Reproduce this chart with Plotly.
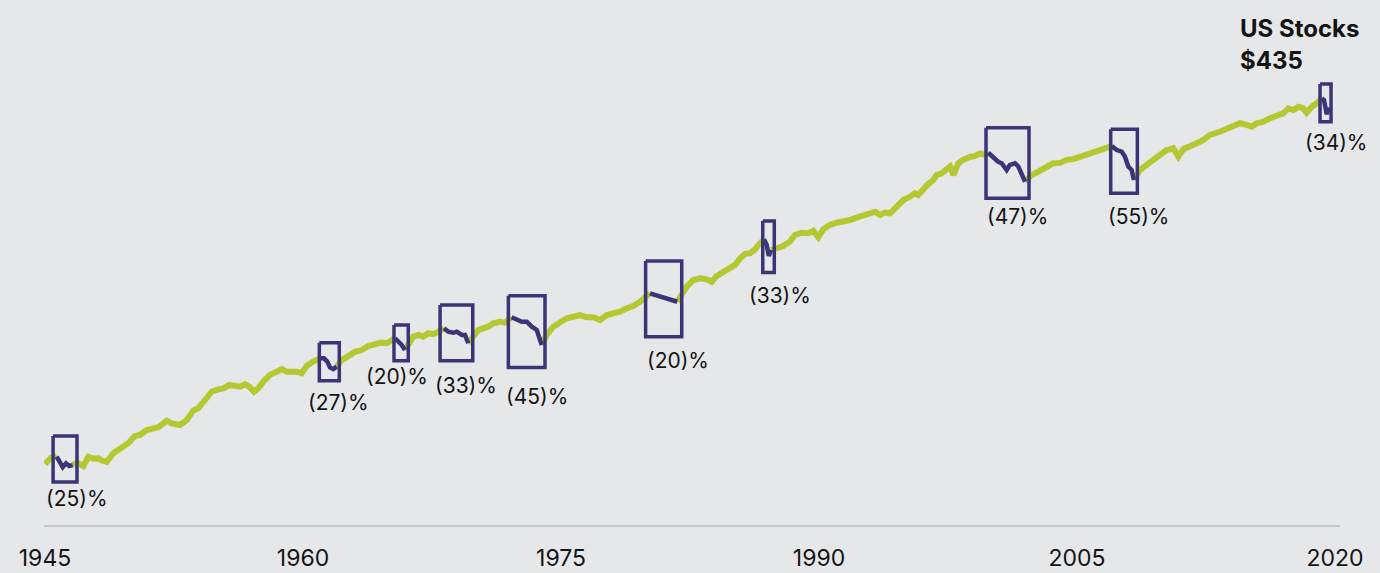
import numpy as np
import plotly.graph_objects as go

# ---------------- data ----------------
years = [
    1945.00, 1945.39, 1945.68, 1945.87, 1946.03, 1946.22, 1946.41, 1946.61, 1946.88, 1947.23,
    1947.52, 1947.81, 1948.10, 1948.30, 1948.59, 1948.97, 1949.46, 1949.84, 1950.23, 1950.52,
    1950.91, 1951.30, 1951.59, 1951.88, 1952.08, 1952.37, 1952.85, 1953.24, 1953.62, 1953.91,
    1954.20, 1954.49, 1954.69, 1955.08, 1955.37, 1955.72, 1956.05, 1956.34, 1956.63, 1956.88,
    1957.15, 1957.40, 1957.69, 1958.08, 1958.47, 1958.76, 1959.05, 1959.34, 1959.63, 1959.92,
    1960.22, 1960.60, 1960.99, 1961.22, 1961.41, 1961.57, 1961.76, 1961.96, 1962.25, 1962.63,
    1963.02, 1963.41, 1963.80, 1964.19, 1964.58, 1964.87, 1965.16, 1965.35, 1965.54, 1965.74,
    1965.93, 1966.12, 1966.41, 1966.70, 1966.99, 1967.28, 1967.58, 1967.87, 1968.20, 1968.45,
    1968.74, 1968.94, 1969.23, 1969.42, 1969.61, 1969.90, 1970.19, 1970.48, 1970.77, 1971.06,
    1971.45, 1971.74, 1972.13, 1972.42, 1972.72, 1973.01, 1973.30, 1973.59, 1973.88, 1974.17,
    1974.55, 1974.94, 1975.33, 1975.72, 1976.10, 1976.49, 1976.88, 1977.27, 1977.66, 1978.04,
    1978.43, 1978.82, 1979.20, 1979.59, 1979.88, 1980.17, 1980.47, 1980.76, 1981.05, 1981.24,
    1981.53, 1981.76, 1982.02, 1982.31, 1982.69, 1983.08, 1983.47, 1983.76, 1984.05, 1984.44,
    1984.83, 1985.12, 1985.41, 1985.70, 1985.99, 1986.28, 1986.57, 1986.80, 1986.96, 1987.08,
    1987.21, 1987.54, 1987.92, 1988.31, 1988.60, 1988.99, 1989.38, 1989.67, 1989.96, 1990.25,
    1990.64, 1991.03, 1991.41, 1991.80, 1992.19, 1992.58, 1992.97, 1993.26, 1993.55, 1993.84,
    1994.13, 1994.52, 1994.90, 1995.29, 1995.58, 1995.77, 1996.06, 1996.35, 1996.65, 1996.84,
    1997.13, 1997.42, 1997.62, 1997.81, 1998.10, 1998.39, 1998.78, 1999.07, 1999.36, 1999.65,
    1999.84, 2000.13, 2000.42, 2000.62, 2000.91, 2001.10, 2001.40, 2001.59, 2001.78, 2001.98,
    2002.37, 2002.75, 2003.24, 2003.62, 2004.01, 2004.40, 2004.78, 2005.17, 2005.56, 2005.95,
    2006.34, 2006.73, 2007.02, 2007.31, 2007.60, 2007.79, 2007.98, 2008.18, 2008.31, 2008.66,
    2009.05, 2009.44, 2009.83, 2010.21, 2010.60, 2010.89, 2011.18, 2011.57, 2011.96, 2012.34,
    2012.73, 2013.31, 2013.90, 2014.48, 2014.87, 2015.16, 2015.45, 2015.83, 2016.22, 2016.61,
    2016.99, 2017.28, 2017.58, 2017.87, 2018.16, 2018.35, 2018.65, 2018.94, 2019.23, 2019.36,
    2019.52, 2019.63,
]
values = [
    0.159, 0.184, 0.186, 0.167, 0.148, 0.161, 0.152, 0.155, 0.163, 0.152,
    0.186, 0.178, 0.180, 0.171, 0.166, 0.201, 0.229, 0.250, 0.293, 0.300,
    0.334, 0.347, 0.355, 0.387, 0.410, 0.387, 0.373, 0.416, 0.511, 0.538,
    0.622, 0.685, 0.774, 0.816, 0.834, 0.897, 0.864, 0.864, 0.911, 0.864,
    0.774, 0.834, 0.964, 1.12, 1.20, 1.27, 1.20, 1.20, 1.20, 1.16,
    1.37, 1.50, 1.61, 1.61, 1.50, 1.32, 1.27, 1.34, 1.55, 1.69,
    1.86, 1.93, 2.11, 2.20, 2.27, 2.24, 2.44, 2.50, 2.32, 2.16,
    1.93, 2.16, 2.59, 2.69, 2.59, 2.79, 2.74, 2.89, 3.11, 2.89,
    2.82, 2.89, 2.69, 2.69, 2.24, 2.59, 3.00, 3.11, 3.22, 3.47,
    3.59, 3.52, 3.96, 3.73, 3.59, 3.59, 3.22, 3.00, 2.16, 2.69,
    3.22, 3.47, 3.87, 4.01, 4.16, 3.96, 3.96, 3.73, 4.16, 4.32,
    4.48, 4.82, 5.07, 5.57, 6.22, 6.70, 6.45, 6.22, 6.14, 6.00,
    5.78, 5.57, 6.45, 7.74, 8.97, 9.31, 9.11, 8.64, 9.79, 10.8,
    11.6, 12.5, 14.4, 15.9, 16.1, 17.6, 20.1, 21.9, 19.3, 15.2,
    17.3, 18.0, 18.9, 20.8, 24.1, 25.3, 25.0, 26.4, 22.9, 27.3,
    30.0, 31.5, 32.2, 33.4, 35.2, 37.3, 38.7, 40.1, 37.3, 39.3,
    38.7, 44.8, 51.8, 55.7, 60.0, 57.9, 67.0, 73.6, 80.4, 89.7,
    93.1, 104, 108, 89.7, 116, 125, 134, 136, 144, 139,
    146, 132, 120, 116, 100, 112, 116, 108, 93.1, 77.4,
    89.7, 96.4, 108, 116, 117, 125, 127, 134, 141, 146,
    155, 167, 169, 155, 150, 134, 108, 100, 80.4, 100,
    112, 125, 134, 155, 161, 134, 158, 167, 180, 193,
    216, 232, 259, 279, 269, 259, 279, 289, 311, 327,
    347, 387, 373, 401, 387, 352, 401, 432, 482, 465,
    340, 395,
]

# bear markets (drawdown periods)
bear_start = [1945.68, 1960.99, 1965.35, 1968.20, 1972.13, 1980.17, 1986.80, 1999.84, 2007.02, 2019.23]
bear_end = [1946.61, 1961.96, 1965.93, 1969.61, 1973.88, 1981.76, 1987.21, 2001.98, 2008.31, 2019.63]
bear_labels = ["(25)%", "(27)%", "(20)%", "(33)%", "(45)%", "(20)%", "(33)%", "(47)%", "(55)%", "(34)%"]

# highlight boxes around each bear market (years / dollar values)
box_x0 = [1945.47, 1960.95, 1965.29, 1967.97, 1971.94, 1979.92, 1986.73, 1999.71, 2006.96, 2019.13]
box_x1 = [1946.86, 1962.11, 1966.12, 1969.87, 1974.07, 1982.02, 1987.40, 2002.21, 2008.51, 2019.77]
box_top = [0.293, 2.27, 3.34, 5.19, 6.36, 13.6, 32.7, 253, 244, 660]
box_bottom = [0.107, 0.986, 1.53, 1.53, 1.32, 2.59, 10.6, 53.8, 60.0, 289]

# label anchor positions (year, dollar level)
label_year = [1946.86, 1962.09, 1965.49, 1969.48, 1973.59, 1981.80, 1987.73, 2001.54, 2008.55, 2020.03]
label_level = [0.0752, 0.605, 1.08, 0.897, 0.694, 1.55, 6.36, 36.5, 36.5, 181]

tick_years = [1945, 1960, 1975, 1990, 2005, 2020]
tick_text = ["1945", "1960", "1975", "1990", "2005", "2020"]

series_name = "US Stocks"
end_value_text = "$435"

# ---------------- styling ----------------
BG = "#e6e7e9"
GREEN = "#b4c832"
PURPLE = "#3b3577"
TEXT = "#141414"
FONT = "Inter, Roboto, 'Liberation Sans', sans-serif"

yrs = np.array(years)
vals = np.array(values)

inside = np.zeros(len(yrs), dtype=bool)
for s, e in zip(bear_start, bear_end):
    inside |= (yrs > s + 1e-9) & (yrs < e - 1e-9)
green_y = [None if m else v for m, v in zip(inside, values)]

fig = go.Figure()
fig.add_trace(go.Scatter(
    x=years, y=green_y, mode="lines", connectgaps=False,
    line=dict(color=GREEN, width=6), hoverinfo="skip", showlegend=False,
))

for s, e in zip(bear_start, bear_end):
    m = (yrs >= s - 1e-9) & (yrs <= e + 1e-9)
    fig.add_trace(go.Scatter(
        x=yrs[m].tolist(), y=vals[m].tolist(), mode="lines",
        line=dict(color=PURPLE, width=4.5), hoverinfo="skip", showlegend=False,
    ))

for x0, x1, t, b in zip(box_x0, box_x1, box_top, box_bottom):
    fig.add_trace(go.Scatter(
        x=[x0, x1, x1, x0, x0], y=[t, t, b, b, t], mode="lines",
        line=dict(color=PURPLE, width=3.5), hoverinfo="skip", showlegend=False,
    ))

annotations = []
for lx, ly, txt in zip(label_year, label_level, bear_labels):
    annotations.append(dict(
        x=lx, y=float(np.log10(ly)), xref="x", yref="y", text=txt, showarrow=False,
        xanchor="center", yanchor="middle", font=dict(family=FONT, size=21, color=TEXT),
    ))

W, H = 1380, 573
ml, mr, mt, mb = 44, 40, 0, 48
pw, ph = W - ml - mr, H - mt - mb
annotations.append(dict(
    x=(1238 - ml) / pw, y=(H - mb - 28) / ph, xref="paper", yref="paper",
    text=f"<b>{series_name}</b>", showarrow=False, xanchor="left", yanchor="middle",
    font=dict(family=FONT, size=24, color=TEXT),
))
annotations.append(dict(
    x=(1238 - ml) / pw, y=(H - mb - 60) / ph, xref="paper", yref="paper",
    text=f"<b>{end_value_text}</b>", showarrow=False, xanchor="left", yanchor="middle",
    font=dict(family=FONT, size=24, color=TEXT),
))

px_per_year = 17.2
x_lo = 1945 - 1 / px_per_year
x_hi = x_lo + pw / px_per_year
px_per_decade = 105.0
y_top = np.log10(435) + 103 / px_per_decade
y_bot = y_top - ph / px_per_decade

fig.update_layout(
    width=W, height=H,
    margin=dict(l=ml, r=mr, t=mt, b=mb),
    paper_bgcolor=BG, plot_bgcolor=BG,
    annotations=annotations,
    xaxis=dict(
        range=[x_lo, x_hi], tickmode="array", tickvals=tick_years, ticktext=tick_text,
        showgrid=False, zeroline=False, showline=True, linecolor="#c5c6c8", linewidth=1.5,
        ticks="", ticklabelstandoff=12,
        tickfont=dict(family=FONT, size=23, color=TEXT), fixedrange=True,
    ),
    yaxis=dict(
        type="log", range=[y_bot, y_top], visible=False, showgrid=False, zeroline=False,
        fixedrange=True,
    ),
    showlegend=False,
)

fig.write_html("out.html")
